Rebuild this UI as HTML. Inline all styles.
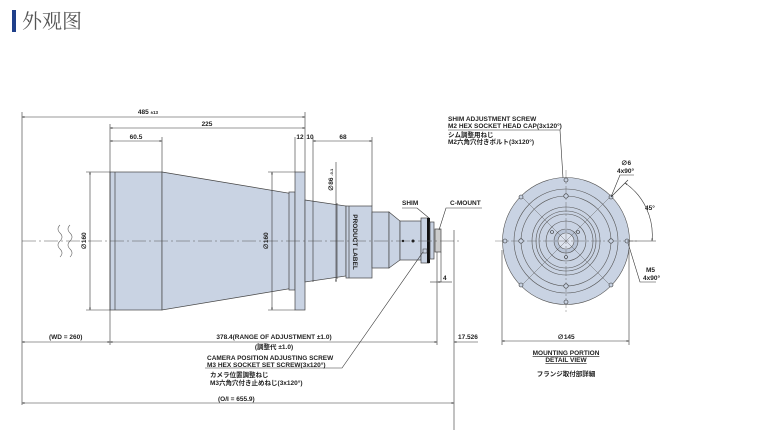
<!DOCTYPE html>
<html><head><meta charset="utf-8"><style>
html,body{margin:0;padding:0;background:#fff;}
svg{display:block;}
text{font-family:"Liberation Sans","Noto Sans CJK JP",sans-serif;font-weight:bold;fill:#222;}
</style></head><body>
<svg width="781" height="442" viewBox="0 0 781 442" xmlns="http://www.w3.org/2000/svg">
<defs>
<marker id="a" viewBox="0 0 10 10" refX="10" refY="5" markerWidth="5" markerHeight="4" orient="auto-start-reverse"><path d="M0,2 L10,5 L0,8z" fill="#222"/></marker>
</defs>
<!-- header -->
<rect x="12" y="10" width="4" height="22" fill="#1f3f8a"/>
<text x="22" y="28" style="font-family:'Liberation Serif','Noto Serif CJK SC','Noto Sans CJK SC',serif;font-weight:normal;font-size:20px;fill:#555">外观图</text>

<g stroke="#444" stroke-width="0.7" fill="#c9d3e3">
<!-- body cylinder -->
<rect x="110" y="172" width="52" height="138"/>
<line x1="115" y1="172" x2="115" y2="310"/>
<!-- cone -->
<path d="M162,172 L294,194 L294,288 L162,310z"/>
<rect x="289" y="192" width="6" height="98"/>
<!-- flange -->
<rect x="295" y="172" width="10" height="138"/>
<!-- second cone -->
<path d="M305,200 L346,206 L346,276 L305,282z"/>
<line x1="313" y1="200" x2="313" y2="282"/>
<line x1="337" y1="203" x2="337" y2="279"/>
<rect x="346" y="206" width="26" height="72"/>
<line x1="349" y1="206" x2="349" y2="278"/>
<rect x="372" y="212" width="17" height="56"/>
<path d="M389,212 L400,221 L400,260 L389,268z"/>
<rect x="400" y="221" width="21" height="39"/>
<rect x="421" y="218" width="8" height="45"/>
<rect x="427" y="218" width="3" height="45" fill="#111" stroke="none"/>
<rect x="430" y="222" width="4" height="37"/>
<rect x="435" y="229" width="6" height="23" fill="#ccc"/>
</g>
<!-- center line -->
<line x1="22" y1="241" x2="460" y2="241" stroke="#555" stroke-width="0.5" stroke-dasharray="14,3,2,3"/>
<path d="M60,225 q-4,4 0,8 q4,4 0,8 q-4,4 0,8 q4,4 0,8 M70,225 q-4,4 0,8 q4,4 0,8 q-4,4 0,8 q4,4 0,8" stroke="#666" stroke-width="0.6" fill="none"/>
<circle cx="413" cy="241" r="1.5" fill="#222"/><circle cx="403" cy="241" r="1.2" fill="#222"/>
<rect x="423" y="249" width="4" height="4" fill="none" stroke="#333" stroke-width="0.5"/>

<g stroke="#333" stroke-width="0.6" fill="none">
<!-- extension lines -->
<line x1="22" y1="112" x2="22" y2="405"/>
<line x1="110" y1="124" x2="110" y2="345"/>
<line x1="162" y1="137" x2="162" y2="172"/>
<line x1="305" y1="112" x2="305" y2="172"/>
<line x1="295" y1="137" x2="295" y2="172"/>
<line x1="313" y1="137" x2="313" y2="200"/>
<line x1="372" y1="137" x2="372" y2="206"/>
<line x1="437" y1="252" x2="437" y2="345"/>
<line x1="441" y1="252" x2="441" y2="282"/>
<line x1="454" y1="230" x2="454" y2="430"/>
<!-- dims -->
<line x1="22" y1="117" x2="305" y2="117" marker-start="url(#a)" marker-end="url(#a)"/>
<line x1="110" y1="128" x2="305" y2="128" marker-start="url(#a)" marker-end="url(#a)"/>
<line x1="110" y1="141" x2="162" y2="141" marker-start="url(#a)" marker-end="url(#a)"/>
<line x1="313" y1="141" x2="372" y2="141" marker-start="url(#a)" marker-end="url(#a)"/>
<line x1="90" y1="172" x2="90" y2="310" marker-start="url(#a)" marker-end="url(#a)"/>
<line x1="86" y1="172" x2="110" y2="172"/><line x1="86" y1="310" x2="110" y2="310"/>
<line x1="272" y1="172" x2="272" y2="310" marker-start="url(#a)" marker-end="url(#a)"/>
<line x1="268" y1="172" x2="295" y2="172"/><line x1="268" y1="310" x2="295" y2="310"/>
<line x1="336" y1="162" x2="336" y2="282" marker-end="url(#a)"/>
<line x1="336" y1="200" x2="336" y2="200"/>
<line x1="22" y1="342" x2="110" y2="342" marker-start="url(#a)" marker-end="url(#a)"/>
<line x1="110" y1="342" x2="437" y2="342" marker-start="url(#a)" marker-end="url(#a)"/>
<line x1="454" y1="342" x2="478" y2="342" marker-start="url(#a)"/>
<line x1="22" y1="403" x2="454" y2="403" marker-start="url(#a)" marker-end="url(#a)"/>
<line x1="430" y1="282" x2="441" y2="282" marker-end="url(#a)"/>
<line x1="441" y1="282" x2="452" y2="282"/>
<!-- leaders -->
<path d="M423,252 L342,368 L205,368"/>
<path d="M429,218 L417,208 L402,208"/>
<path d="M439,230 L446,208 L482,208"/>
<path d="M566,226 L560,130 L448,130"/>
</g>
<g font-size="6.5">
<text x="148" y="114" text-anchor="middle">485 <tspan font-size="4.5">±13</tspan></text>
<text x="207" y="126" text-anchor="middle">225</text>
<text x="136" y="139" text-anchor="middle">60.5</text>
<text x="300" y="139" text-anchor="middle">12</text>
<text x="310" y="139" text-anchor="middle">10</text>
<text x="343" y="139" text-anchor="middle">68</text>
<text x="0" y="0" transform="translate(86,241) rotate(-90)" text-anchor="middle">∅160</text>
<text x="0" y="0" transform="translate(268,241) rotate(-90)" text-anchor="middle">∅160</text>
<text x="0" y="0" transform="translate(333,180) rotate(-90)" text-anchor="middle">∅86 <tspan font-size="4">-0.1</tspan></text>
<text x="0" y="0" transform="translate(353,242) rotate(90)" text-anchor="middle">PRODUCT LABEL</text>
<text x="402" y="205">SHIM</text>
<text x="450" y="205">C-MOUNT</text>
<text x="443" y="280">4</text>
<text x="49" y="339">(WD = 260)</text>
<text x="274" y="339" text-anchor="middle">378.4(RANGE OF ADJUSTMENT ±1.0)</text>
<text x="274" y="349" text-anchor="middle">(調整代 ±1.0)</text>
<text x="458" y="339">17.526</text>
<text x="207" y="360">CAMERA POSITION ADJUSTING SCREW</text>
<text x="207" y="367">M3 HEX SOCKET SET SCREW(3x120°)</text>
<text x="210" y="377">カメラ位置調整ねじ</text>
<text x="210" y="385">M3六角穴付き止めねじ(3x120°)</text>
<text x="218" y="401">(O/I = 655.9)</text>
<text x="448" y="121">SHIM ADJUSTMENT SCREW</text>
<text x="448" y="128">M2 HEX SOCKET HEAD CAP(3x120°)</text>
<text x="448" y="137">シム調整用ねじ</text>
<text x="448" y="144">M2六角穴付きボルト(3x120°)</text>
<text x="621" y="165">∅6</text>
<text x="617" y="173">4x90°</text>
<text x="645" y="210">45°</text>
<text x="646" y="272">M5</text>
<text x="643" y="280">4x90°</text>
<text x="566" y="339" text-anchor="middle">∅145</text>
<text x="566" y="355" text-anchor="middle" text-decoration="underline">MOUNTING PORTION</text>
<text x="566" y="362" text-anchor="middle" text-decoration="underline">DETAIL VIEW</text>
<text x="566" y="376" text-anchor="middle">フランジ取付部詳細</text>
</g>

<!-- detail view -->
<g stroke="#555" stroke-width="0.6">
<circle cx="566" cy="241" r="63.5" fill="#c9d3e3"/>
<circle cx="566" cy="241" r="52" fill="none"/>
<circle cx="566" cy="241" r="45" fill="none"/>
<circle cx="566" cy="241" r="34" fill="#c9d3e3"/>
<circle cx="566" cy="241" r="30" fill="none"/>
<circle cx="566" cy="241" r="27" fill="none"/>
<circle cx="566" cy="241" r="20" fill="none"/>
<circle cx="566" cy="241" r="12" fill="#b9c4d6"/>
<circle cx="566" cy="241" r="8" fill="#dde3ee"/>
<line x1="566" y1="170" x2="566" y2="312" stroke-dasharray="10,2,2,2" stroke-width="0.4"/>
<line x1="495" y1="241" x2="637" y2="241" stroke-dasharray="10,2,2,2" stroke-width="0.4"/>
<line x1="520" y1="195" x2="612" y2="287" stroke-width="0.4"/>
<line x1="612" y1="195" x2="520" y2="287" stroke-width="0.4"/>
</g>
<g fill="#c9d3e3" stroke="#333" stroke-width="0.6">
<circle cx="566" cy="180" r="2"/><circle cx="566" cy="302" r="2"/>
<circle cx="505" cy="241" r="2"/><circle cx="627" cy="241" r="2"/>
<circle cx="521" cy="197" r="2"/><circle cx="611" cy="197" r="2"/>
<circle cx="521" cy="285" r="2"/><circle cx="611" cy="285" r="2"/>
<circle cx="566" cy="196" r="2.2"/><circle cx="566" cy="286" r="2.2"/>
<circle cx="521" cy="241" r="2.2"/><circle cx="611" cy="241" r="2.2"/>
<circle cx="578" cy="232" r="1.5"/><circle cx="566" cy="257" r="1.5"/><circle cx="552" cy="232" r="1.5"/>
</g>
<g stroke="#333" stroke-width="0.6" fill="none">
<path d="M625,183 A63,63 0 0 1 652,241" marker-start="url(#a)" marker-end="url(#a)"/>
<line x1="611" y1="197" x2="628" y2="180"/>
<line x1="627" y1="241" x2="656" y2="241"/>
<path d="M611,197 L620,175 L634,175"/>
<path d="M628,243 L640,282 L656,282"/>
<line x1="502" y1="250" x2="502" y2="345"/>
<line x1="629" y1="250" x2="629" y2="345"/>
<line x1="502" y1="341" x2="629" y2="341" marker-start="url(#a)" marker-end="url(#a)"/>
</g>
</svg>
</body></html>
